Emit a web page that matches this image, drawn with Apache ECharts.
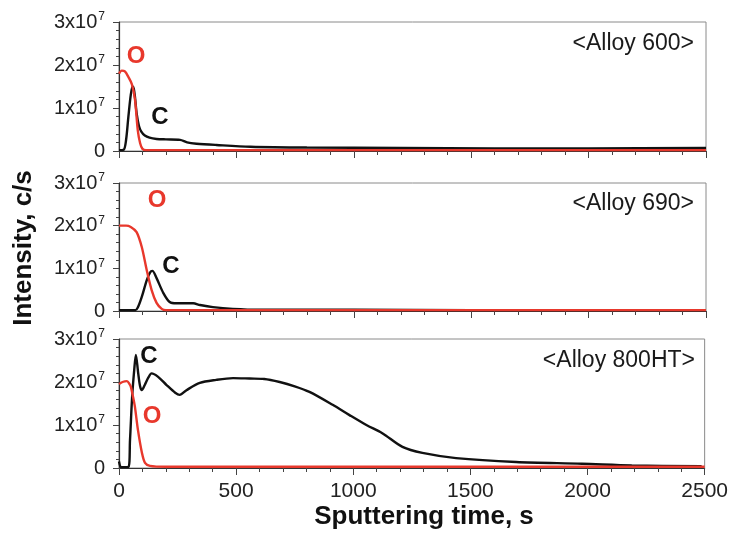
<!DOCTYPE html>
<html>
<head>
<meta charset="utf-8">
<script src="https://cdn.jsdelivr.net/npm/echarts@6/dist/echarts.min.js"></script>
<style>
  html, body { margin: 0; padding: 0; background: #fff; }
  #chart { width: 731px; height: 539px; }
</style>
</head>
<body>
<div id="chart"></div>
<script>
// Sputtering depth profiles (intensity in units of 10^7 c/s vs. sputtering time in s)
var panelNames = ['<Alloy 600>', '<Alloy 690>', '<Alloy 800HT>'];
var xTicks = [0, 500, 1000, 1500, 2000, 2500];
var yTicks = [0, 1, 2, 3];

// Alloy 600
var a600_O_t = [0, 12, 25, 40, 55, 68, 80, 90, 100, 115, 2500];
var a600_O_v = [1.80, 1.87, 1.85, 1.72, 1.55, 1.20, 0.48, 0.18, 0.05, 0.02, 0.02];
var a600_C_t = [0, 20, 30, 40, 50, 58, 63, 68, 75, 85, 95, 110, 130, 160, 200, 260, 290, 330, 415, 560, 800, 1200, 1600, 2000, 2500];
var a600_C_v = [0.02, 0.03, 0.25, 0.80, 1.30, 1.50, 1.45, 1.26, 0.88, 0.58, 0.45, 0.36, 0.31, 0.28, 0.27, 0.26, 0.20, 0.17, 0.14, 0.10, 0.08, 0.07, 0.06, 0.06, 0.07];

// Alloy 690
var a690_O_t = [0, 30, 50, 75, 97, 118, 139, 160, 182, 200, 2500];
var a690_O_v = [2.00, 2.00, 1.97, 1.85, 1.50, 0.96, 0.49, 0.19, 0.05, 0.02, 0.02];
var a690_C_t = [0, 70, 80, 97, 118, 132, 142, 160, 189, 216, 245, 316, 345, 400, 485, 600, 1000, 1500, 2500];
var a690_C_v = [0.02, 0.02, 0.08, 0.33, 0.72, 0.90, 0.94, 0.77, 0.42, 0.21, 0.18, 0.18, 0.14, 0.09, 0.05, 0.03, 0.03, 0.02, 0.02];

// Alloy 800HT
var a800_O_t = [0, 15, 34, 45, 51, 60, 68, 81, 98, 111, 132, 200, 2500];
var a800_O_v = [1.95, 2.00, 2.02, 1.95, 1.88, 1.65, 1.42, 0.88, 0.35, 0.12, 0.05, 0.03, 0.03];
var a800_C_t = [0, 10, 40, 47, 56, 65, 72, 82, 90, 97, 110, 125, 139, 167, 203, 240, 259, 288, 345, 415, 487, 558, 620, 686, 750, 813, 912, 984, 1056, 1124, 1210, 1295, 1439, 1695, 1976, 2189, 2487];
var a800_C_v = [0.15, 0.02, 0.02, 0.65, 1.65, 2.28, 2.63, 2.20, 1.90, 1.81, 1.93, 2.10, 2.20, 2.12, 1.93, 1.75, 1.70, 1.81, 1.98, 2.05, 2.09, 2.08, 2.07, 2.00, 1.90, 1.77, 1.47, 1.23, 1.00, 0.81, 0.49, 0.35, 0.23, 0.14, 0.10, 0.06, 0.04];

function pairs(t, v) {
  return t.map(function (x, i) { return [x, v[i]]; });
}

var RED = '#e8382c';
var BLACK = '#111111';
var FONT = '"Liberation Sans", Arial, sans-serif';

var gridTops = [22, 183, 339];
var gridHeights = [129, 128, 129];

var grids = [], xAxes = [], yAxes = [], series = [];
for (var g = 0; g < 3; g++) {
  grids.push({
    left: 119, right: 25, top: gridTops[g], height: gridHeights[g],
    show: true, borderColor: '#8a8a8a', borderWidth: 1, backgroundColor: 'transparent'
  });
  xAxes.push({
    gridIndex: g, type: 'value', min: xTicks[0], max: xTicks[xTicks.length - 1],
    interval: xTicks[1] - xTicks[0],
    axisLine: { show: true, onZero: false, lineStyle: { color: '#333', width: 1.2 } },
    axisTick: { show: true, inside: false, length: 7, lineStyle: { color: '#444', width: 1 } },
    minorTick: { show: true, splitNumber: 5, length: 4, lineStyle: { color: '#444', width: 1 } },
    splitLine: { show: false },
    axisLabel: {
      show: g === 2, margin: 13, color: '#222', fontFamily: FONT, fontSize: 21,
      showMaxLabel: true, showMinLabel: true,
      formatter: function (v) { return String(v); }
    }
  });
  yAxes.push({
    gridIndex: g, type: 'value', min: yTicks[0], max: yTicks[yTicks.length - 1],
    interval: yTicks[1] - yTicks[0],
    axisLine: { show: true, lineStyle: { color: '#333', width: 1.2 } },
    axisTick: { show: true, inside: false, length: 6, lineStyle: { color: '#444', width: 1 } },
    minorTick: { show: true, splitNumber: 5, length: 3, lineStyle: { color: '#444', width: 1 } },
    splitLine: { show: false },
    axisLabel: {
      margin: 14, color: '#222', fontFamily: FONT,
      formatter: function (v) {
        if (v === 0) return '{b|0}';
        return '{b|' + v + 'x10}{s|7}';
      },
      rich: {
        b: { fontSize: 20, fontFamily: FONT, color: '#222', lineHeight: 22 },
        s: { fontSize: 12, fontFamily: FONT, color: '#222', verticalAlign: 'top', lineHeight: 12, padding: [0, 0, 8, 1] }
      }
    }
  });
}

var profiles = [
  [a600_C_t, a600_C_v, a600_O_t, a600_O_v],
  [a690_C_t, a690_C_v, a690_O_t, a690_O_v],
  [a800_C_t, a800_C_v, a800_O_t, a800_O_v]
];
profiles.forEach(function (p, g) {
  series.push({
    name: 'C', type: 'line', xAxisIndex: g, yAxisIndex: g, data: pairs(p[0], p[1]),
    showSymbol: false, smooth: 0.3,
    lineStyle: { color: BLACK, width: 2.4 }, z: 3
  });
  series.push({
    name: 'O', type: 'line', xAxisIndex: g, yAxisIndex: g, data: pairs(p[2], p[3]),
    showSymbol: false, smooth: 0.3,
    lineStyle: { color: RED, width: 2.4 }, z: 4
  });
});

function label(text, x, y, color, size, extra) {
  var s = { text: text, fill: color, font: (extra || '') + ' ' + size + 'px ' + FONT, textAlign: 'center', textVerticalAlign: 'middle' };
  return { type: 'text', x: x, y: y, style: s, z: 10 };
}

var graphics = [
  // panel names
  { type: 'text', x: 694, y: 44, style: { text: panelNames[0], fill: '#1a1a1a', font: '23px ' + FONT, textAlign: 'right', textVerticalAlign: 'middle' } },
  { type: 'text', x: 694, y: 204, style: { text: panelNames[1], fill: '#1a1a1a', font: '23px ' + FONT, textAlign: 'right', textVerticalAlign: 'middle' } },
  { type: 'text', x: 695, y: 361, style: { text: panelNames[2], fill: '#1a1a1a', font: '23px ' + FONT, textAlign: 'right', textVerticalAlign: 'middle' } },
  // element labels
  label('O', 136, 56, RED, 24, 'bold'),
  label('C', 160, 117, BLACK, 24, 'bold'),
  label('O', 157, 200, RED, 24, 'bold'),
  label('C', 171, 266, BLACK, 24, 'bold'),
  label('C', 149, 356, BLACK, 24, 'bold'),
  label('O', 152, 416, RED, 24, 'bold'),
  // axis titles
  { type: 'text', x: 424, y: 517, style: { text: 'Sputtering time, s', fill: '#111', font: 'bold 26px ' + FONT, textAlign: 'center', textVerticalAlign: 'middle' } },
  { type: 'text', x: 24, y: 248, rotation: Math.PI / 2, style: { text: 'Intensity, c/s', fill: '#111', font: 'bold 26px ' + FONT, textAlign: 'center', textVerticalAlign: 'middle' } }
];

var chart = echarts.init(document.getElementById('chart'), null, { renderer: 'canvas' });
chart.setOption({
  animation: false,
  backgroundColor: '#ffffff',
  grid: grids,
  xAxis: xAxes,
  yAxis: yAxes,
  series: series,
  graphic: graphics
});
</script>
</body>
</html>
